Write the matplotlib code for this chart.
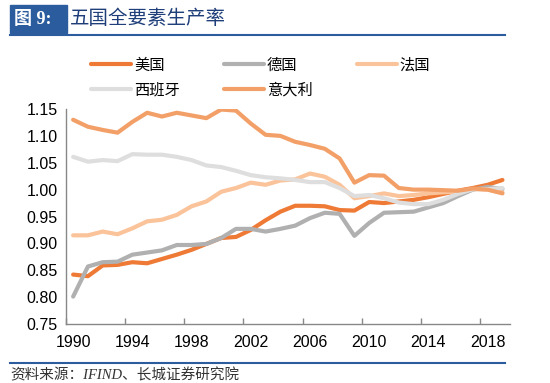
import matplotlib
matplotlib.use("Agg")
import matplotlib.pyplot as plt
import numpy as np
from matplotlib.patches import Rectangle
from matplotlib.lines import Line2D

plt.rcParams['font.family'] = ['Liberation Sans', 'Noto Sans CJK SC', 'DejaVu Sans']

##### Data #####
years = list(range(1990, 2020))
usa = [0.842, 0.839, 0.859, 0.860, 0.865, 0.863, 0.871, 0.879, 0.888, 0.899,
       0.910, 0.912, 0.925, 0.943, 0.959, 0.970, 0.970, 0.969, 0.962, 0.961,
       0.977, 0.975, 0.978, 0.981, 0.986, 0.992, 0.998, 1.003, 1.009, 1.018]
germany = [0.801, 0.857, 0.865, 0.866, 0.879, 0.883, 0.887, 0.897, 0.897, 0.899,
           0.910, 0.927, 0.927, 0.922, 0.927, 0.933, 0.947, 0.957, 0.955, 0.914,
           0.938, 0.957, 0.958, 0.959, 0.967, 0.975, 0.988, 1.000, 1.005, 1.001]
france = [0.915, 0.915, 0.922, 0.917, 0.928, 0.941, 0.944, 0.953, 0.969, 0.978,
          0.996, 1.003, 1.013, 1.009, 1.017, 1.019, 1.030, 1.024, 1.009, 0.984,
          0.988, 0.993, 0.988, 0.990, 0.993, 0.995, 0.996, 1.001, 1.000, 0.995]
spain = [1.061, 1.052, 1.055, 1.053, 1.066, 1.065, 1.065, 1.061, 1.055, 1.045,
         1.042, 1.035, 1.027, 1.023, 1.021, 1.018, 1.014, 1.014, 1.003, 0.988,
         0.990, 0.984, 0.976, 0.973, 0.973, 0.981, 0.992, 1.001, 1.001, 1.003]
italy = [1.130, 1.117, 1.111, 1.106, 1.126, 1.143, 1.136, 1.143, 1.138, 1.133,
         1.149, 1.147, 1.123, 1.102, 1.100, 1.089, 1.083, 1.076, 1.058, 1.013,
         1.027, 1.026, 1.003, 1.000, 1.000, 0.999, 0.998, 1.002, 1.000, 0.993]

names = ["美国", "德国", "法国", "西班牙", "意大利"]
colors = ["#EE7A36", "#B0B0B0", "#FAC39A", "#DEDEDE", "#F3A068"]
series = [usa, germany, france, spain, italy]
tick_years = [1990, 1994, 1998, 2002, 2006, 2010, 2014, 2018]

fig = plt.figure(figsize=(5.5, 3.83), dpi=100)
ax = fig.add_axes([0.1195, 0.154, 0.8075, 0.5614])

# category axis: points centred in each year slot
xpos = np.arange(len(years)) + 0.5
draw_order = [3, 2, 1, 0, 4]
for k in draw_order:
    ax.plot(xpos, series[k], color=colors[k], lw=3.0, solid_capstyle='round', zorder=2 + k)

ax.set_xlim(0, len(years))
ax.set_ylim(0.75, 1.15)
ax.set_yticks(np.arange(0.75, 1.151, 0.05))
ax.set_yticklabels([f"{v:.2f}" for v in np.arange(0.75, 1.151, 0.05)])

# tick marks on slot boundaries, labels on categories
ax.set_xticks([years.index(y) for y in tick_years])
ax.set_xticklabels([])
ax.set_xticks([years.index(y) + 0.5 for y in tick_years], minor=True)
ax.set_xticklabels([str(y) for y in tick_years], minor=True)
ax.tick_params(axis='x', which='major', direction='in', length=4, color='#888888', width=1)
ax.tick_params(axis='x', which='minor', length=0, pad=8, labelsize=11.5)
ax.tick_params(axis='y', length=0, pad=6, labelsize=11.5)

for s in ['top', 'right']:
    ax.spines[s].set_visible(False)
for s in ['left', 'bottom']:
    ax.spines[s].set_color('#888888')
    ax.spines[s].set_linewidth(1)

# legend, filled row by row (matplotlib fills by column)
handles = [Line2D([], [], color=c, lw=3, solid_capstyle='round') for c in colors]
order = [0, 3, 1, 4, 2]
fig.legend([handles[i] for i in order], [names[i] for i in order],
           loc='upper left', bbox_to_anchor=(0.141, 0.888), ncol=3,
           frameon=False, handlelength=2.6, handletextpad=0.2,
           columnspacing=2.9, labelspacing=0.5,
           prop={'family': ['Noto Sans CJK SC'], 'size': 11})

# title block
fig.patches.append(Rectangle((10 / 550, 1 - 33 / 383), 57 / 550, 28 / 383,
                             transform=fig.transFigure, color='#2B5C9E', zorder=0))
fig.text(14 / 550, 1 - 19 / 383, "图 9:", color='white', fontsize=13, fontweight='bold',
         va='center', ha='left', family=['Liberation Serif', 'Noto Sans CJK SC'])
fig.text(70 / 550, 1 - 19 / 383, "五国全要素生产率", color='#1F3F7A', fontsize=14,
         va='center', ha='left', family=['Noto Sans CJK SC'])
fig.add_artist(Line2D([10 / 550, 505 / 550], [1 - 35 / 383, 1 - 35 / 383],
                      transform=fig.transFigure, color='#2B5C9E', lw=1.5))
fig.add_artist(Line2D([10 / 550, 505 / 550], [1 - 363 / 383, 1 - 363 / 383],
                      transform=fig.transFigure, color='#2B5C9E', lw=1.5))
fig.text(10 / 550, 1 - 375 / 383, "资料来源：IFIND、长城证券研究院", fontsize=10.5,
         style='italic', va='center', ha='left', color='#333333',
         family=['Liberation Serif', 'Noto Sans CJK SC'])

fig.savefig("out.png", dpi=100)
